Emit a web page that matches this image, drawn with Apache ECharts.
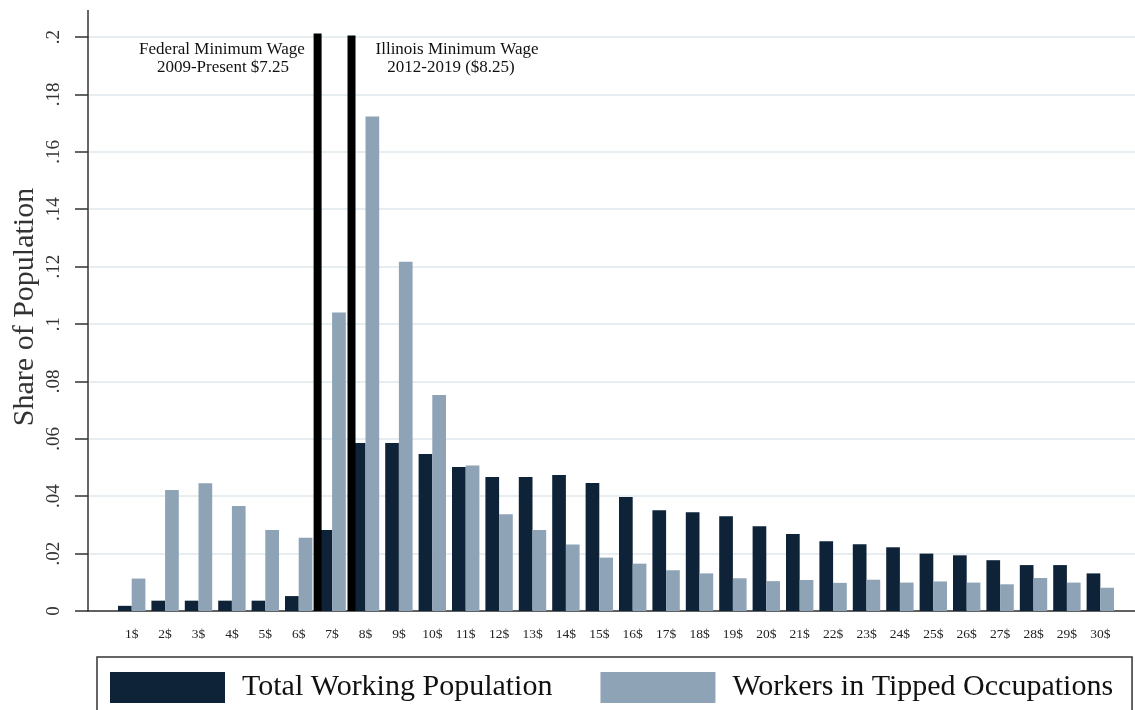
<!DOCTYPE html>
<html>
<head>
<meta charset="utf-8">
<script src="https://cdn.jsdelivr.net/npm/echarts@6/dist/echarts.min.js"></script>
<style>
html,body{margin:0;padding:0;background:#fff;}
#chart{width:1135px;height:710px;}
</style>
</head>
<body>
<div id="chart"></div>
<script>
// ---- data ----
const wageBins = ['1$','2$','3$','4$','5$','6$','7$','8$','9$','10$','11$','12$','13$','14$','15$','16$','17$','18$','19$','20$','21$','22$','23$','24$','25$','26$','27$','28$','29$','30$'];
const totalWorking = [0.0018,0.0036,0.0036,0.0036,0.0036,0.0052,0.0282,0.0585,0.0585,0.0547,0.0502,0.0467,0.0467,0.0474,0.0446,0.0397,0.0351,0.0344,0.0330,0.0295,0.0268,0.0243,0.0233,0.0222,0.0200,0.0194,0.0177,0.0160,0.0160,0.0131];
const tippedWorkers = [0.0113,0.0422,0.0445,0.0366,0.0282,0.0255,0.1040,0.1723,0.1217,0.0753,0.0507,0.0337,0.0282,0.0232,0.0186,0.0165,0.0142,0.0131,0.0114,0.0104,0.0108,0.0098,0.0109,0.0099,0.0103,0.0099,0.0093,0.0115,0.0099,0.0081];
const yTicks = [0,0.02,0.04,0.06,0.08,0.1,0.12,0.14,0.16,0.18,0.2];
const seriesNames = ['Total Working Population','Workers in Tipped Occupations'];
// minimum-wage reference lines, in wage-bin units (1 = centre of the 1$ bin)
const minWageLinePos = [6.57, 7.585];
const minWageLineTop = [0.2012, 0.2005];
const annotFederal = ['Federal Minimum Wage','2009-Present $7.25'];
const annotIllinois = ['Illinois Minimum Wage','2012-2019 ($8.25)'];
const yTitle = 'Share of Population';

const SERIF = '"Liberation Serif", "DejaVu Serif", serif';
const chart = echarts.init(document.getElementById('chart'), null, {renderer:'canvas'});

const fmtY = v => {
  if (Math.abs(v) < 1e-9) return '0';
  return String(+v.toFixed(2)).replace(/^0/, '');
};

const lineSeries = minWageLinePos.map((p, i) => ({
  name: 'minwage' + i, type: 'line', xAxisIndex: 0, yAxisIndex: 0, z: 5,
  data: [[p, 0], [p, minWageLineTop[i]]],
  symbol: 'none', silent: true,
  lineStyle: {color: '#000', width: 8, cap: 'butt'}
}));

const option = {
  animation: false,
  backgroundColor: '#fff',
  grid: [
    {left: 88, right: 0, top: 37, bottom: 99, containLabel:false, outerBoundsMode:'none'},
    {left: 115, right: 18, top: 37, bottom: 99, containLabel:false, outerBoundsMode:'none'}
  ],
  xAxis: [
    {type:'value', gridIndex:0, min:-0.302, max:31.035,
     axisLine:{show:true, onZero:true, lineStyle:{color:'#333', width:1.5}},
     axisTick:{show:false}, axisLabel:{show:false}, splitLine:{show:false}},
    {type:'category', gridIndex:1, data: wageBins,
     axisLine:{show:false}, axisTick:{show:false},
     axisLabel:{show:true, interval:0, margin:16, fontFamily:SERIF, fontSize:13.5, color:'#222'},
     splitLine:{show:false}}
  ],
  yAxis: [
    {type:'value', gridIndex:0, min:0, max:0.2, interval:0.02,
     axisLine:{show:true, onZero:false, lineStyle:{color:'#333', width:1.5}},
     axisTick:{show:true, inside:false, length:13, lineStyle:{color:'#333', width:1.5}},
     axisLabel:{show:true, rotate:90, margin:24, fontFamily:SERIF, fontSize:19, color:'#333', formatter: fmtY},
     splitLine:{show:true, lineStyle:{color:'#e7eef2', width:2}}},
    {type:'value', gridIndex:1, min:0, max:0.2, interval:0.02, show:false,
     splitLine:{show:false}}
  ],
  legend: {
    data: seriesNames,
    left: 97, top: 657,
    orient: 'horizontal',
    icon: 'rect',
    itemWidth: 115, itemHeight: 31,
    itemGap: 48,
    padding: [15, 19, 24, 13],
    borderColor: '#333', borderWidth: 1.5,
    textStyle: {fontFamily:SERIF, fontSize:30, color:'#111', padding:[0,0,0,12]}
  },
  series: [
    {name: seriesNames[0], type:'bar', xAxisIndex:1, yAxisIndex:1, data: totalWorking,
     barWidth:'41%', barGap:'0%', itemStyle:{color:'#0f2338'}},
    {name: seriesNames[1], type:'bar', xAxisIndex:1, yAxisIndex:1, data: tippedWorkers,
     barWidth:'41%', barGap:'0%', itemStyle:{color:'#8ea3b6'}}
  ].concat(lineSeries),
  graphic: [
    {type:'line', shape:{x1:88, y1:10, x2:88, y2:37}, style:{stroke:'#333', lineWidth:1.5}, z:10},
    {type:'text', x:25, y:307, rotation:Math.PI/2, style:{text:yTitle, font:'30px '+SERIF, fill:'#333', textAlign:'center', textVerticalAlign:'middle'}},
    {type:'text', x:222, y:50, style:{text:annotFederal[0], font:'17px '+SERIF, fill:'#111', textAlign:'center', textVerticalAlign:'middle'}},
    {type:'text', x:223, y:68, style:{text:annotFederal[1], font:'17px '+SERIF, fill:'#111', textAlign:'center', textVerticalAlign:'middle'}},
    {type:'text', x:457, y:50, style:{text:annotIllinois[0], font:'17px '+SERIF, fill:'#111', textAlign:'center', textVerticalAlign:'middle'}},
    {type:'text', x:451, y:68, style:{text:annotIllinois[1], font:'17px '+SERIF, fill:'#111', textAlign:'center', textVerticalAlign:'middle'}}
  ]
};
chart.setOption(option);
</script>
</body>
</html>
